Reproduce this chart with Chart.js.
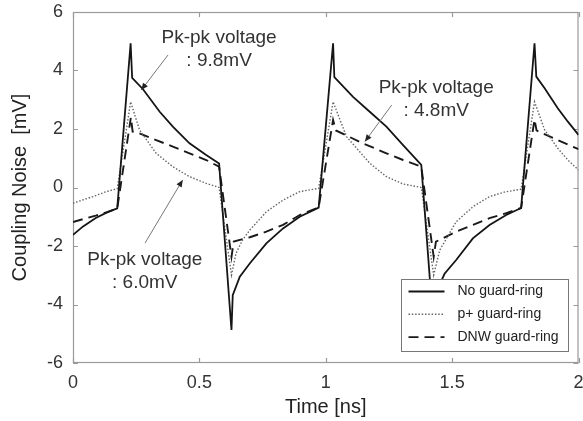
<!DOCTYPE html>
<html>
<head>
<meta charset="utf-8">
<script src="https://cdn.jsdelivr.net/npm/chart.js@4/dist/chart.umd.min.js"></script>
<style>
  html, body { margin: 0; padding: 0; background: #fff; }
  #wrap { width: 583px; height: 421px; }
</style>
</head>
<body>
<div id="wrap"><canvas id="c" width="583" height="421"></canvas></div>
<script>
// Axis ticks
const xTicks = [0, 0.5, 1, 1.5, 2];
const yTicks = [-6, -4, -2, 0, 2, 4, 6];

// No guard-ring (time in ns, noise in mV)
const tNo = [0, 0.04, 0.09, 0.135, 0.175, 0.228, 0.234, 0.277, 0.343, 0.395, 0.461, 0.527, 0.578,
  0.627, 0.632, 0.66, 0.70, 0.765, 0.831, 0.897, 0.972,
  1.029, 1.034, 1.108, 1.174, 1.24, 1.306, 1.378,
  1.427, 1.432, 1.47, 1.516, 1.582, 1.648, 1.714, 1.773,
  1.826, 1.833, 1.866, 1.918, 1.958, 2.0];
const vNo = [-1.62, -1.33, -1.04, -0.85, -0.71, 4.93, 3.75, 3.36, 2.59, 2.08, 1.51, 1.11, 0.82,
  -4.87, -3.68, -3.05, -2.59, -1.91, -1.40, -1.00, -0.69,
  4.93, 3.77, 3.10, 2.59, 2.08, 1.45, 0.77,
  -4.87, -3.68, -2.95, -2.48, -1.74, -1.28, -0.94, -0.70,
  4.93, 3.79, 3.39, 2.71, 2.25, 1.80];

// p+ guard-ring
const tP = [0, 0.04, 0.079, 0.132, 0.175, 0.228, 0.263, 0.329, 0.395, 0.461, 0.527, 0.578,
  0.627, 0.645, 0.671, 0.70, 0.765, 0.831, 0.897, 0.972,
  1.029, 1.082, 1.174, 1.24, 1.306, 1.378,
  1.427, 1.451, 1.516, 1.582, 1.648, 1.71, 1.773,
  1.826, 1.866, 1.918, 1.958, 2.0];
const vP = [-0.54, -0.42, -0.31, -0.14, -0.04, 2.93, 1.97, 1.17, 0.71, 0.37, 0.14, 0.00,
  -2.99, -2.25, -1.79, -1.45, -0.83, -0.43, -0.14, -0.03,
  2.93, 1.74, 0.83, 0.37, 0.12, 0.00,
  -2.99, -2.14, -1.17, -0.66, -0.31, -0.15, -0.06,
  2.93, 1.97, 1.34, 0.94, 0.60];

// DNW guard-ring
const tDnw = [0, 0.04, 0.09, 0.135, 0.175, 0.229, 0.236, 0.263, 0.329, 0.395, 0.461, 0.527, 0.578,
  0.627, 0.636, 0.70, 0.765, 0.831, 0.897, 0.972,
  1.029, 1.04, 1.147, 1.24, 1.306, 1.378,
  1.427, 1.436, 1.451, 1.516, 1.582, 1.648, 1.714, 1.773,
  1.826, 1.834, 1.918, 2.0];
const vDnw = [-1.18, -1.08, -0.96, -0.84, -0.72, 2.40, 1.91, 1.85, 1.62, 1.40, 1.17, 0.94, 0.71,
  -2.37, -1.85, -1.70, -1.51, -1.28, -0.94, -0.68,
  2.31, 1.95, 1.51, 1.17, 0.94, 0.71,
  -2.37, -1.85, -1.79, -1.51, -1.28, -1.05, -0.88, -0.70,
  2.33, 1.95, 1.62, 1.31];

const seriesNames = ['No guard-ring', 'p+ guard-ring', 'DNW guard-ring'];

// Callouts: text anchor and arrow in data units (ns, mV)
const callouts = [
  { lines: ['Pk-pk voltage', ': 9.8mV'], at: [0.578, 5.11], gap: 0.79, from: [0.376, 4.53], to: [0.270, 3.33] },
  { lines: ['Pk-pk voltage', ': 4.8mV'], at: [1.437, 3.40], gap: 0.76, from: [1.261, 2.82], to: [1.155, 1.57] },
  { lines: ['Pk-pk voltage', ': 6.0mV'], at: [0.284, -2.48], gap: 0.79, from: [0.285, -1.90], to: [0.434, 0.26] }
];

const pts = (t, v) => t.map((x, i) => ({ x, y: v[i] }));
const FONT = 'Liberation Sans, Arial, sans-serif';

const framePlugin = {
  id: 'frame',
  beforeDatasetsDraw(chart) {
    const { ctx, chartArea: a, scales: { x, y } } = chart;
    ctx.save();
    ctx.strokeStyle = '#9a9a9a';
    ctx.lineWidth = 1.2;
    ctx.strokeRect(a.left + 0.5, a.top + 0.5, a.right - a.left - 1, a.bottom - a.top - 1);
    ctx.beginPath();
    const L = 5;
    x.ticks.forEach(t => {
      const p = Math.round(x.getPixelForValue(t.value)) + 0.5;
      ctx.moveTo(p, a.bottom); ctx.lineTo(p, a.bottom - L);
      ctx.moveTo(p, a.top); ctx.lineTo(p, a.top + L);
    });
    y.ticks.forEach(t => {
      const p = Math.round(y.getPixelForValue(t.value)) + 0.5;
      ctx.moveTo(a.left, p); ctx.lineTo(a.left + L, p);
      ctx.moveTo(a.right, p); ctx.lineTo(a.right - L, p);
    });
    ctx.stroke();
    ctx.restore();
  }
};

const overlayPlugin = {
  id: 'overlay',
  afterDatasetsDraw(chart) {
    const { ctx, chartArea: a, scales: { x, y } } = chart;
    ctx.save();
    // callouts
    callouts.forEach(c => {
      const x0 = x.getPixelForValue(c.from[0]), y0 = y.getPixelForValue(c.from[1]);
      const x1 = x.getPixelForValue(c.to[0]), y1 = y.getPixelForValue(c.to[1]);
      ctx.strokeStyle = '#777';
      ctx.lineWidth = 1;
      ctx.beginPath(); ctx.moveTo(x0, y0); ctx.lineTo(x1, y1); ctx.stroke();
      const ang = Math.atan2(y1 - y0, x1 - x0), hl = 7, hw = 3;
      ctx.fillStyle = '#222';
      ctx.beginPath();
      ctx.moveTo(x1, y1);
      ctx.lineTo(x1 - hl * Math.cos(ang) + hw * Math.sin(ang), y1 - hl * Math.sin(ang) - hw * Math.cos(ang));
      ctx.lineTo(x1 - hl * Math.cos(ang) - hw * Math.sin(ang), y1 - hl * Math.sin(ang) + hw * Math.cos(ang));
      ctx.closePath(); ctx.fill();
      ctx.fillStyle = '#333';
      ctx.font = '19px ' + FONT;
      ctx.textAlign = 'center';
      ctx.textBaseline = 'middle';
      const cx = x.getPixelForValue(c.at[0]), cy = y.getPixelForValue(c.at[1]);
      const dy = Math.abs(y.getPixelForValue(0) - y.getPixelForValue(c.gap));
      ctx.fillText(c.lines[0], cx, cy);
      ctx.fillText(c.lines[1], cx, cy + dy);
    });
    // legend box in the lower right corner
    const bw = 167, bh = 72;
    const bx = a.right - 11 - bw, by = a.bottom - 12 - bh;
    ctx.fillStyle = '#fff';
    ctx.fillRect(bx, by, bw, bh);
    ctx.strokeStyle = '#777';
    ctx.lineWidth = 1;
    ctx.strokeRect(Math.round(bx) + 0.5, Math.round(by) + 0.5, bw, bh);
    chart.data.datasets.forEach((ds, i) => {
      const ly = by + 12.5 + i * 22.8;
      ctx.strokeStyle = ds.borderColor;
      ctx.lineWidth = ds.borderWidth;
      ctx.setLineDash(ds.borderDash || []);
      ctx.beginPath(); ctx.moveTo(bx + 8, ly); ctx.lineTo(bx + 44, ly); ctx.stroke();
      ctx.setLineDash([]);
      ctx.fillStyle = '#222';
      ctx.font = '14px ' + FONT;
      ctx.textAlign = 'left';
      ctx.textBaseline = 'middle';
      ctx.fillText(ds.label, bx + 57, ly);
    });
    ctx.restore();
  }
};

new Chart(document.getElementById('c'), {
  type: 'line',
  data: {
    datasets: [
      { label: seriesNames[0], data: pts(tNo, vNo), borderColor: '#151515', borderWidth: 1.8, borderDash: [] },
      { label: seriesNames[1], data: pts(tP, vP), borderColor: '#666', borderWidth: 1.4, borderDash: [1.5, 1.8] },
      { label: seriesNames[2], data: pts(tDnw, vDnw), borderColor: '#1a1a1a', borderWidth: 1.9, borderDash: [10, 6] }
    ]
  },
  options: {
    responsive: false,
    animation: false,
    devicePixelRatio: 1,
    elements: { point: { radius: 0 }, line: { tension: 0 } },
    layout: { padding: { left: 0, right: 4.5, top: 12, bottom: 0 } },
    plugins: { legend: { display: false }, tooltip: { enabled: false } },
    scales: {
      x: {
        type: 'linear', min: 0, max: 2,
        afterBuildTicks: s => { s.ticks = xTicks.map(v => ({ value: v })); },
        afterFit: s => { s.height = 58; s.paddingLeft = 0; s.paddingRight = 0; },
        grid: { display: false, drawTicks: false },
        border: { display: false },
        ticks: { color: '#333', font: { family: FONT, size: 18 }, padding: 9, maxRotation: 0, callback: v => String(v) },
        title: { display: true, text: 'Time [ns]', color: '#222', font: { family: FONT, size: 20, lineHeight: 1.2 }, padding: { top: 0, bottom: 2 } }
      },
      y: {
        type: 'linear', min: -6, max: 6,
        afterBuildTicks: s => { s.ticks = yTicks.map(v => ({ value: v })); },
        afterFit: s => { s.width = 73; s.paddingTop = 0; s.paddingBottom = 0; },
        grid: { display: false, drawTicks: false },
        border: { display: false },
        ticks: { color: '#333', font: { family: FONT, size: 18 }, padding: 10, callback: v => String(v) },
        title: { display: true, text: 'Coupling Noise  [mV]', color: '#222', font: { family: FONT, size: 20, lineHeight: 1.2 }, padding: { top: 8, bottom: 0 } }
      }
    }
  },
  plugins: [framePlugin, overlayPlugin]
});
</script>
</body>
</html>
